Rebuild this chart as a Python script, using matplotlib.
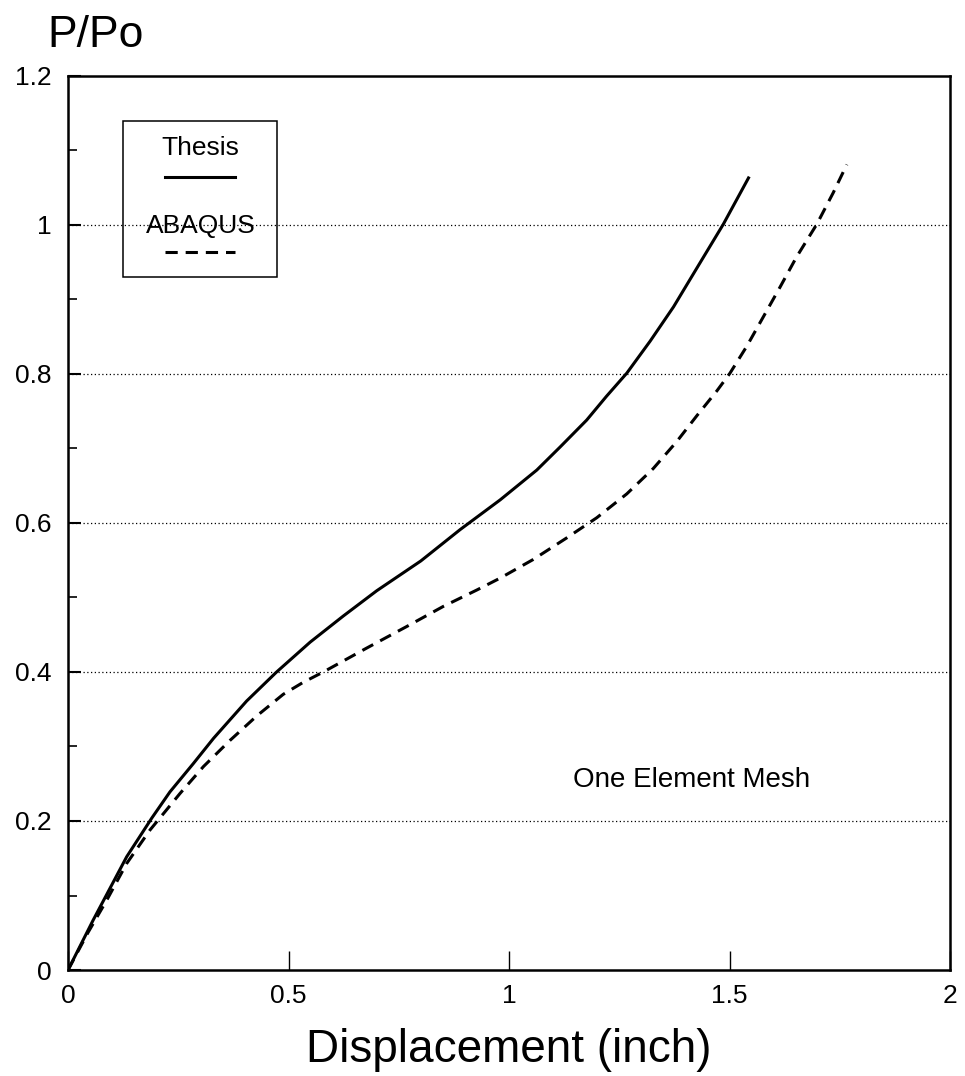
import matplotlib
matplotlib.use('Agg')
import matplotlib.pyplot as plt
from matplotlib.lines import Line2D
from matplotlib.patches import Rectangle

plt.rcParams['font.family'] = ['Liberation Sans', 'DejaVu Sans']

# Data
thesis_x = [0, 0.057, 0.133, 0.190, 0.231, 0.284, 0.330, 0.405, 0.473,
            0.549, 0.624, 0.700, 0.800, 0.889, 0.980, 1.063, 1.116,
            1.176, 1.221, 1.267, 1.320, 1.373, 1.433, 1.486, 1.543]
thesis_y = [0, 0.067, 0.152, 0.204, 0.239, 0.277, 0.311, 0.361, 0.400,
            0.440, 0.475, 0.509, 0.549, 0.591, 0.631, 0.671, 0.702,
            0.738, 0.770, 0.801, 0.844, 0.890, 0.949, 1.001, 1.063]

abaqus_x = [0, 0.045, 0.088, 0.133, 0.186, 0.254, 0.307, 0.367, 0.428,
            0.488, 0.533, 0.579, 0.677, 0.768, 0.851, 0.927, 0.980, 1.055,
            1.131, 1.199, 1.267, 1.327, 1.380, 1.426, 1.471, 1.501,
            1.539, 1.577, 1.615, 1.652, 1.698, 1.735, 1.766]
abaqus_y = [0, 0.050, 0.094, 0.143, 0.188, 0.237, 0.273, 0.308, 0.341,
            0.370, 0.386, 0.400, 0.432, 0.461, 0.488, 0.510, 0.526, 0.551,
            0.580, 0.607, 0.639, 0.673, 0.709, 0.744, 0.777, 0.801,
            0.837, 0.877, 0.917, 0.957, 1.001, 1.043, 1.081]

x_ticks = [0, 0.5, 1, 1.5, 2]
x_labels = ['0', '0.5', '1', '1.5', '2']
y_ticks = [0, 0.2, 0.4, 0.6, 0.8, 1.0, 1.2]
y_labels = ['0', '0.2', '0.4', '0.6', '0.8', '1', '1.2']
y_minor = [0.1, 0.3, 0.5, 0.7, 0.9, 1.1]

DASH = (0, (4, 2.6))

fig = plt.figure(figsize=(9.65, 10.76), dpi=100)
ax = fig.add_axes([0.0705, 0.0985, 0.914, 0.831])

ax.plot(thesis_x, thesis_y, color='black', lw=2.2, solid_joinstyle='round')
ax.plot(abaqus_x, abaqus_y, color='black', lw=2.2, linestyle=DASH)

ax.set_xlim(0, 2)
ax.set_ylim(0, 1.2)

# dotted horizontal grid lines
for yv in y_ticks[1:-1]:
    ax.axhline(yv, color='black', lw=0.9, linestyle=(0, (1, 2)), zorder=0)

for s in ax.spines.values():
    s.set_linewidth(1.8)

ax.set_xticks(x_ticks)
ax.set_xticklabels(x_labels)
ax.set_yticks(y_ticks)
ax.set_yticklabels(y_labels)
ax.set_yticks(y_minor, minor=True)
ax.tick_params(axis='x', direction='in', length=14, width=1.0, pad=10,
               labelsize=19, top=False)
ax.tick_params(axis='y', which='major', direction='in', length=9.5, width=1.5,
               pad=12, labelsize=19, right=False)
ax.tick_params(axis='y', which='minor', direction='in', length=6.5, width=1.2,
               right=False)

# legend box drawn by hand (text above line sample)
ax.add_patch(Rectangle((0.0624, 0.775), 0.174, 0.175, transform=ax.transAxes,
                       fill=False, edgecolor='black', lw=1.1))
ax.text(0.150, 0.919, 'Thesis', transform=ax.transAxes, ha='center',
        va='center', fontsize=19)
ax.add_line(Line2D([0.110, 0.189], [0.887, 0.887], transform=ax.transAxes,
                   color='black', lw=2.2))
ax.text(0.150, 0.832, 'ABAQUS', transform=ax.transAxes, ha='center',
        va='center', fontsize=19)
ax.add_line(Line2D([0.110, 0.189], [0.803, 0.803], transform=ax.transAxes,
                   color='black', lw=2.2, linestyle=DASH))

ax.text(1.145, 0.255, 'One Element Mesh', fontsize=20, ha='left', va='center')

fig.text(0.049, 0.956, 'P/Po', fontsize=32, ha='left', va='baseline')
fig.text(0.527, 0.013, 'Displacement (inch)', fontsize=33, ha='center',
         va='baseline')

plt.savefig('out.png', dpi=100)
